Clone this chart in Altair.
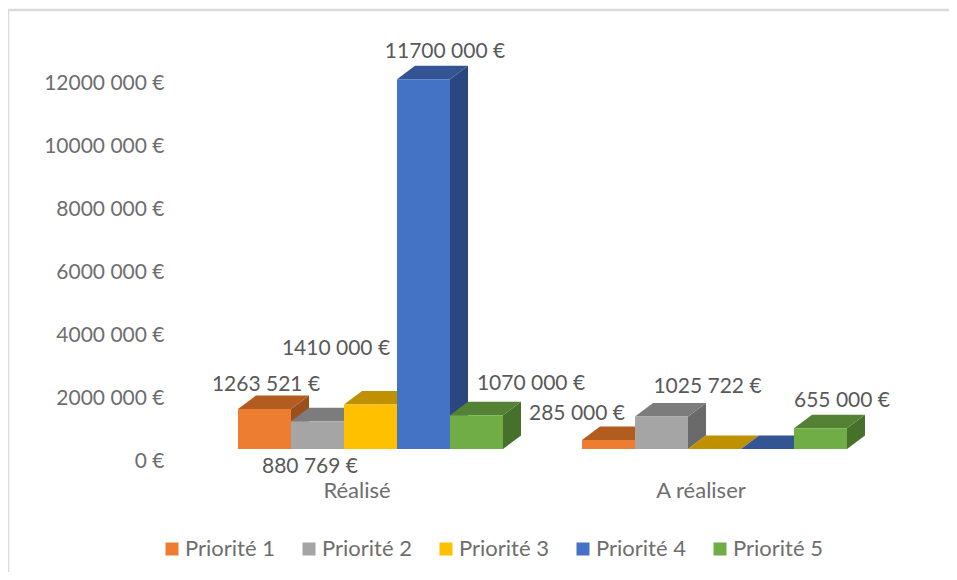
import altair as alt
import pandas as pd

categories = ["Réalisé", "A réaliser"]
priorities = ["Priorité 1", "Priorité 2", "Priorité 3", "Priorité 4", "Priorité 5"]
realise = [1263521, 880769, 1410000, 11700000, 1070000]
a_realiser = [285000, 1025722, 0, 0, 655000]
labels_realise = ["1263 521 €", "880 769 €", "1410 000 €", "11700 000 €", "1070 000 €"]
labels_a_realiser = ["285 000 €", "1025 722 €", "", "", "655 000 €"]
front_colors = ["#ED7D31", "#A5A5A5", "#FFC000", "#4472C4", "#70AD47"]
top_colors = ["#B35C20", "#7C7C7C", "#BF9000", "#335593", "#548235"]
side_colors = ["#9A4F1C", "#6A6A6A", "#A37B00", "#2B477E", "#47702B"]
tick_values = [0, 2000000, 4000000, 6000000, 8000000, 10000000, 12000000]
label_shift_realise = [(1.5, -24), (-7.5, 46), (-34.5, -55), (21.5, -27), (54.5, -31)]
label_shift_a_realiser = [(-31.5, -26), (46, -29.6), (0, 0), (0, 0), (21.5, -27.6)]

FONT = "Lato"
W, H = 941, 564
UNIT = 53.0            # px per bar
PX = 31.6 / 1e6        # px per euro
X0, Y0 = 230, 441      # chart position of the first bar's foot
GROUP_GAP = 344 / UNIT
DX, DY = 18 / UNIT, 13.5 / PX

x_scale = alt.Scale(domain=[-X0 / UNIT, (W - X0) / UNIT], nice=False, zero=False)
y_scale = alt.Scale(domain=[-(H - Y0) / PX, Y0 / PX], nice=False, zero=False)
AX_PX = 31.42 / 1e6
axis_scale = alt.Scale(domain=[-(H - 453) / AX_PX, 453 / AX_PX], nice=False, zero=False)

x_axis = alt.Axis(
    values=[2.5, 2.5 + GROUP_GAP],
    labelExpr=f"datum.value < 5 ? '{categories[0]}' : '{categories[1]}'",
    labelOffset=-14,
    labelBaseline="middle",
    labelPadding=0,
    labelFont=FONT,
    labelFontSize=22,
    labelColor="#6E6E6E",
    domain=False,
    ticks=False,
    grid=False,
    title=None,
    offset=-(H - 482),
)


def qx():
    return alt.X("x:Q", scale=x_scale, axis=x_axis)


def qy():
    return alt.Y("y:Q", scale=y_scale, axis=None)


layers = []

# value axis, on its own scale
layers.append(
    alt.Chart(pd.DataFrame({"v": tick_values, "x": [0.0] * len(tick_values)}))
    .mark_point(opacity=0)
    .encode(
        x=qx(),
        y=alt.Y(
            "v:Q",
            scale=axis_scale,
            axis=alt.Axis(
                values=tick_values,
                labelExpr="datum.value === 0 ? '0 €' : slice(format(datum.value, 'd'), 0, -3) + ' ' + slice(format(datum.value, 'd'), -3) + ' €'",
                labelFont=FONT,
                labelFontSize=21,
                labelColor="#6E6E6E",
                labelPadding=0,
                domain=False,
                ticks=False,
                grid=False,
                title=None,
                offset=-156,
            ),
        ),
    )
)

text_layers = []
for g, values in enumerate([realise, a_realiser]):
    texts = labels_realise if g == 0 else labels_a_realiser
    shifts = label_shift_realise if g == 0 else label_shift_a_realiser
    for i, v in enumerate(values):
        l = i + g * GROUP_GAP
        r = l + 1
        top = pd.DataFrame(
            {
                "x": [l, l + DX, r, r + DX],
                "y": [v, v, v, v + DY],
                "y2": [v, v + DY, v + DY, v + DY],
            }
        )
        side = pd.DataFrame({"x": [r, r + DX], "y": [v, v + DY], "y2": [0, DY]})
        front = pd.DataFrame(
            {"x": [l], "x2": [r], "y": [v], "y2": [0], "p": [priorities[i]]}
        )
        layers.append(
            alt.Chart(side)
            .mark_area(orient="vertical", color=side_colors[i])
            .encode(x=qx(), y=qy(), y2="y2:Q")
        )
        layers.append(
            alt.Chart(top)
            .mark_area(orient="vertical", color=top_colors[i])
            .encode(x=qx(), y=qy(), y2="y2:Q")
        )
        layers.append(
            alt.Chart(front)
            .mark_rect()
            .encode(
                x=qx(),
                x2="x2:Q",
                y=qy(),
                y2="y2:Q",
                color=alt.Color(
                    "p:N",
                    scale=alt.Scale(domain=priorities, range=front_colors),
                    legend=alt.Legend(
                        orient="none",
                        legendX=153,
                        legendY=530,
                        direction="horizontal",
                        title=None,
                        symbolType="square",
                        symbolSize=169,
                        symbolStrokeWidth=0,
                        symbolOffset=0,
                        labelFont=FONT,
                        labelFontSize=22,
                        labelColor="#6E6E6E",
                        labelOffset=2,
                        columnPadding=23,
                    ),
                ),
            )
        )
        if texts[i]:
            dx, dy = shifts[i]
            text_layers.append(
                alt.Chart(pd.DataFrame({"x": [l + 0.5], "y": [v], "t": [texts[i]]}))
                .mark_text(
                    dx=dx,
                    dy=dy,
                    font=FONT,
                    fontSize=21,
                    color="#595959",
                    align="center",
                    baseline="middle",
                )
                .encode(x=qx(), y=qy(), text="t:N")
            )

frame_color = "#DADADA"
border_top = (
    alt.Chart(pd.DataFrame({"a": [0]}))
    .mark_rule(color=frame_color, strokeWidth=2.5)
    .encode(x=alt.value(0), x2=alt.value(W), y=alt.value(2))
)
border_left = (
    alt.Chart(pd.DataFrame({"a": [0]}))
    .mark_rule(color=frame_color, strokeWidth=2.5)
    .encode(x=alt.value(0), y=alt.value(1), y2=alt.value(H))
)

chart = (
    alt.layer(border_top, border_left, *layers, *text_layers)
    .resolve_scale(y="independent")
    .properties(
        width=W,
        height=H,
        padding=0,
        autosize=alt.AutoSizeParams(type="none"),
        background="white",
    )
    .configure_view(stroke=None)
)

chart.save("out.html", embed_options={"renderer": "svg", "actions": False})
